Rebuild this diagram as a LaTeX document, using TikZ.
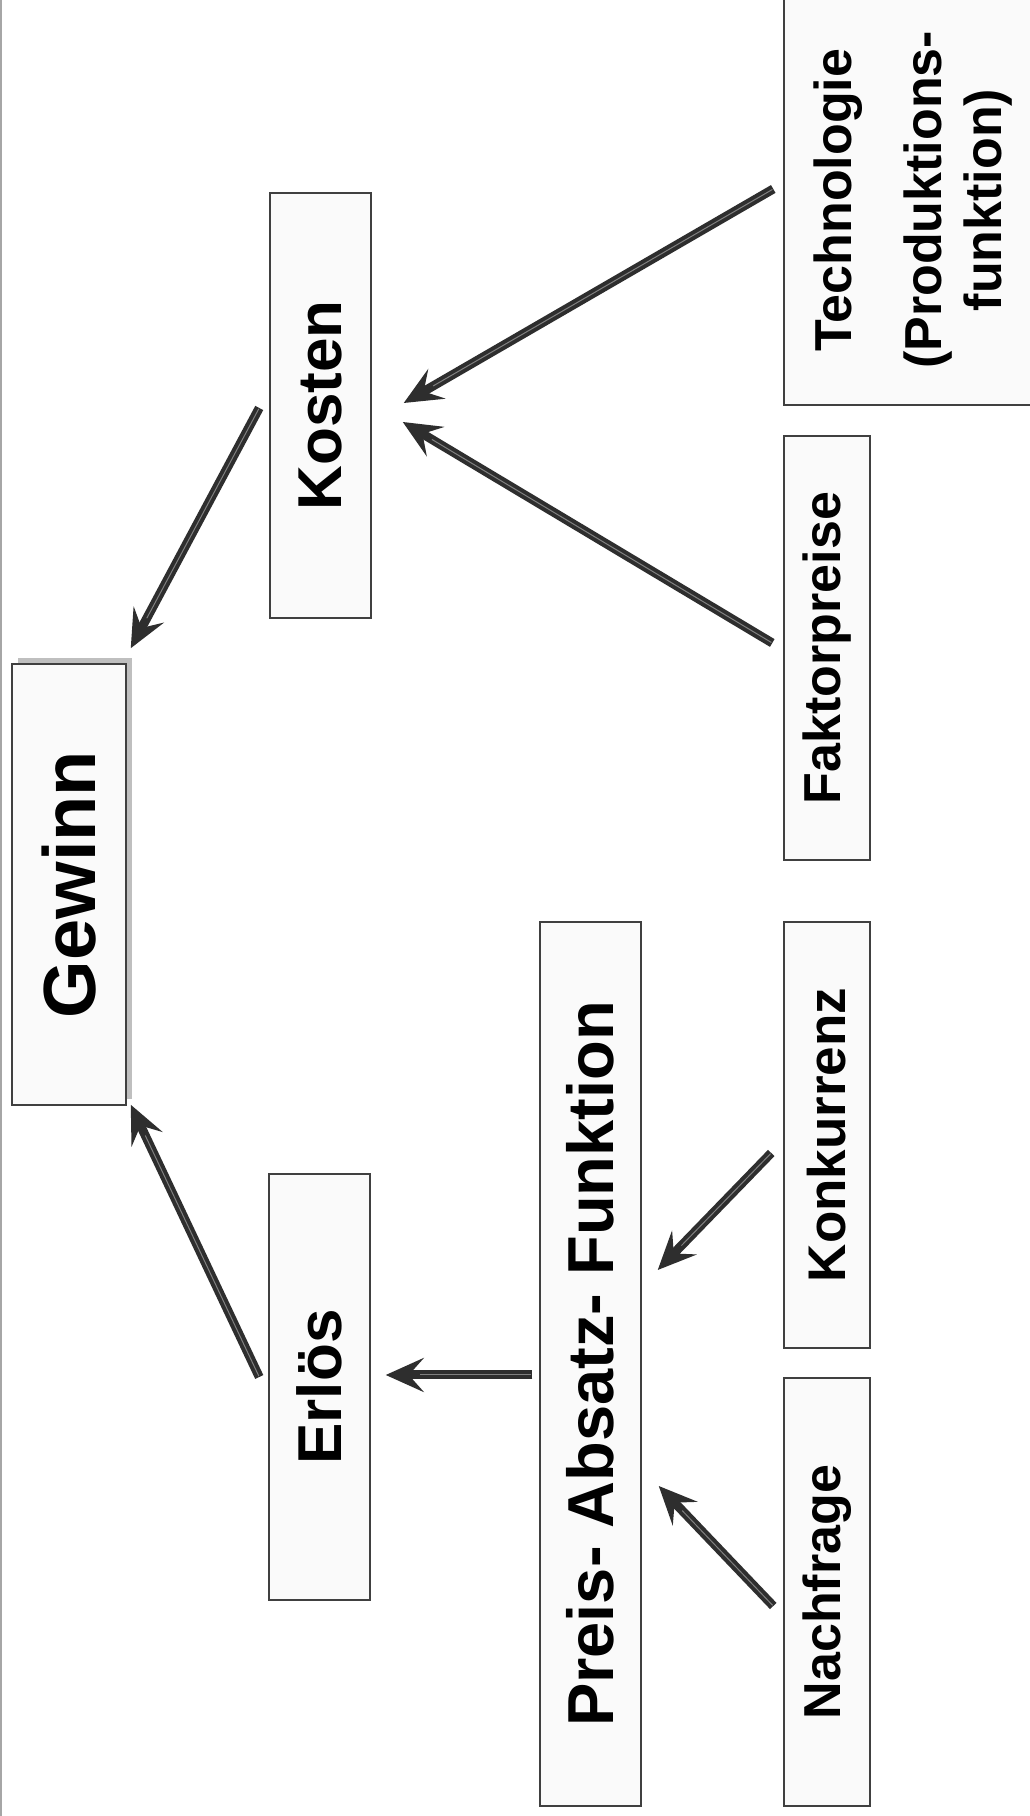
\documentclass[tikz,border=0pt]{standalone}
\usepackage{fontspec}
\setmainfont{Liberation Sans}
\usepackage{graphicx}
\usetikzlibrary{arrows.meta,calc,shadows}
\begin{document}
\begin{tikzpicture}[x=1pt,y=1pt,
  box/.style={draw=black!75, line width=1.5pt, fill=black!2, inner sep=0pt, rectangle},
  big/.style={font=\bfseries\fontsize{74}{80}\selectfont},
  mid/.style={font=\bfseries\fontsize{62}{68}\selectfont},
  small/.style={font=\bfseries\fontsize{52}{60}\selectfont},
  conn/.style={draw=black!82, line width=9pt,
    -{Stealth[length=38pt,width=34pt,inset=15pt]},
    postaction={draw=black!50, line width=1pt, -, shorten >=34pt, shorten <=1pt}}
]
\useasboundingbox (0,0) rectangle (1029,1816);
\fill[white] (0,0) rectangle (1029,1816);
\draw[black!35, line width=2pt] (1,0) -- (1,1816);

% nodes
\node[box, big, minimum width=114pt, minimum height=441pt,
  general shadow={fill=black!25, shadow xshift=6pt, shadow yshift=6pt}]
  (gewinn) at (69,931.5) {\rotatebox{90}{Gewinn}};
\node[box, mid, minimum width=101pt, minimum height=425pt] (kosten) at (320.5,1410.5) {\rotatebox{90}{Kosten}};
\node[box, mid, minimum width=101pt, minimum height=426pt] (erloes) at (319.5,429) {\rotatebox{90}{Erlös}};
\node[box, mid, font=\bfseries\fontsize{65}{70}\selectfont, minimum width=101pt, minimum height=884pt] (paf) at (590.5,452) {\rotatebox{90}{Preis- Absatz- Funktion}};
\node[box, small, minimum width=260pt, minimum height=410pt] (tech) at (914,1616)
  {\rotatebox{90}{\begin{tabular}{@{}c@{}}Technologie\\[30pt](Produktions-\\funktion)\end{tabular}}};
\node[box, small, minimum width=86pt, minimum height=424pt] (faktor) at (827,1168) {\rotatebox{90}{Faktorpreise}};
\node[box, small, font=\bfseries\fontsize{53}{60}\selectfont, minimum width=86pt, minimum height=426pt] (konk) at (827,681) {\rotatebox{90}{Konkurrenz}};
\node[box, small, minimum width=86pt, minimum height=428pt] (nach) at (827,224) {\rotatebox{90}{Nachfrage}};

% connectors
\draw[conn] ($(kosten.west)+(-10,-2.5)$) -- ($(gewinn.north east)+(4,15)$);
\draw[conn] ($(erloes.west)+(-9,10)$) -- ($(gewinn.south east)+(4,1)$);
\draw[conn] ($(paf.west)+(-7,-11)$) -- ($(erloes.east)+(15,12)$);
\draw[conn] ($(tech.west)+(-10,11)$) -- ($(kosten.east)+(32,2.5)$);
\draw[conn] ($(faktor.west)+(-11,5)$) -- ($(kosten.east)+(31,-16.5)$);
\draw[conn] ($(konk.west)+(-12,-18)$) -- ($(paf.east)+(16,94)$);
\draw[conn] ($(nach.west)+(-10,-14)$) -- ($(paf.east)+(17,-122)$);
\end{tikzpicture}
\end{document}
